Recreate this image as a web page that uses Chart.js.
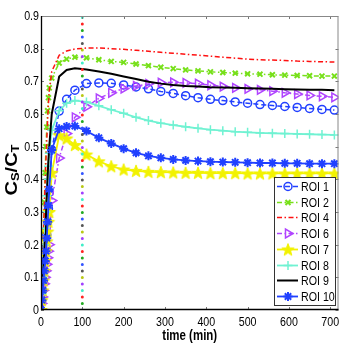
<!DOCTYPE html>
<html><head><meta charset="utf-8">
<script src="https://cdn.jsdelivr.net/npm/chart.js@4.4.0/dist/chart.umd.min.js"></script>
<style>html,body{margin:0;padding:0;background:#fff;overflow:hidden}#wrap{width:346px;height:346px}</style>
</head><body><div id="wrap"><canvas id="c" width="346" height="346"></canvas></div>
<script>
// ---------- data ----------
const timeMin = [0,2,4,6,8,10,12,14,16,18,20,26,44,62,82,110,140,170,200,230,260,290,320,350,380,410,440,470,500,530,560,590,620,650,680,710];
const roi1  = [0,0.03,0.06,0.09,0.12,0.15,0.19,0.23,0.27,0.31,0.36, 0.49,0.609,0.645,0.673,0.693,0.695,0.694, 0.689,0.683,0.677,0.669,0.663,0.656,0.650,0.645,0.641,0.637,0.633,0.629,0.626,0.623,0.620,0.617,0.614,0.612];
const roi2  = [0,0.07,0.15,0.24,0.33,0.42,0.50,0.56,0.61,0.65,0.68, 0.71,0.756,0.768,0.774,0.772,0.766,0.761, 0.758,0.753,0.748,0.743,0.739,0.735,0.732,0.729,0.727,0.725,0.723,0.722,0.720,0.719,0.718,0.717,0.716,0.716];
const roi4  = [0,0.07,0.15,0.23,0.31,0.39,0.46,0.52,0.58,0.63,0.67, 0.73,0.78,0.793,0.799,0.802,0.802,0.800, 0.798,0.795,0.792,0.789,0.786,0.783,0.780,0.777,0.774,0.771,0.768,0.766,0.765,0.764,0.762,0.761,0.760,0.759];
const roi6  = [0,0.02,0.04,0.06,0.08,0.10,0.12,0.14,0.16,0.18,0.20, 0.335,0.465,0.54,0.59,0.622,0.648,0.665, 0.678,0.686,0.692,0.696,0.697,0.695,0.693,0.688,0.684,0.680,0.677,0.674,0.670,0.665,0.661,0.657,0.654,0.651];
const roi7  = [0,0.03,0.06,0.09,0.12,0.15,0.18,0.21,0.24,0.27,0.30, 0.42,0.535,0.525,0.505,0.476,0.455,0.440, 0.430,0.426,0.423,0.422,0.421,0.420,0.420,0.419,0.419,0.419,0.418,0.418,0.418,0.418,0.418,0.418,0.418,0.418];
const roi8  = [0,0.05,0.10,0.15,0.20,0.25,0.30,0.35,0.40,0.44,0.48, 0.55,0.61,0.633,0.641,0.637,0.625,0.613, 0.602,0.590,0.580,0.572,0.566,0.561,0.556,0.552,0.549,0.546,0.544,0.542,0.541,0.540,0.539,0.538,0.537,0.536];
const roi9  = [0,0.04,0.08,0.13,0.18,0.23,0.29,0.35,0.41,0.46,0.50, 0.60,0.715,0.735,0.740,0.736,0.730,0.723, 0.715,0.707,0.699,0.693,0.689,0.686,0.684,0.682,0.681,0.680,0.679,0.678,0.677,0.676,0.675,0.674,0.674,0.673];
const roi10 = [0,0.03,0.06,0.09,0.12,0.15,0.18,0.22,0.27,0.32,0.37, 0.49,0.555,0.562,0.563,0.548,0.527,0.510, 0.494,0.481,0.472,0.466,0.461,0.458,0.456,0.454,0.453,0.452,0.451,0.450,0.450,0.449,0.449,0.448,0.448,0.448];
const seriesLabels = ['ROI 1','ROI 2','ROI 4','ROI 6','ROI 7','ROI 8','ROI 9','ROI 10'];
const xTickValues = [0,100,200,300,400,500,600,700];
const yTickValues = [0,0.1,0.2,0.3,0.4,0.5,0.6,0.7,0.8,0.9];
const xAxisTitle = 'time (min)';
const markerTime = 100;            // vertical dotted marker at t = 100 min
const markerSpan = [0, 0.9];

// ---------- styling ----------
const FONT = "'Liberation Sans',Arial,sans-serif";
const SQUEEZE = 0.82;   // reference text is horizontally condensed

function makeStar(color, r){
  const s = Math.ceil(r*2+3);
  const c = document.createElement('canvas'); c.width = s; c.height = s;
  const g = c.getContext('2d'); g.translate(s/2, s/2+0.6);
  g.beginPath();
  for (let k=0;k<10;k++){ const rr = (k%2)? r*0.42 : r; const a = -Math.PI/2 + k*Math.PI/5; g.lineTo(rr*Math.cos(a), rr*Math.sin(a)); }
  g.closePath(); g.fillStyle = color; g.fill(); g.strokeStyle = color; g.lineWidth = 1; g.stroke();
  return c;
}
const yellowStar = makeStar('#f2f200', 6.5);

const seriesValues = [roi1, roi2, roi4, roi6, roi7, roi8, roi9, roi10];
const seriesStyle = [
  {color:'#2240ff', dash:[5,3],       point:'circle',   r:4,   pbw:1.5, bw:1.5},
  {color:'#77e01a', dash:[5,2.5,1.5,2.5], point:'crossRot', r:3.5, pbw:2, bw:1.5},
  {color:'#ff1010', dash:[5,2.5,1.5,2.5], point:false,  r:0,   pbw:0,   bw:1.5},
  {color:'#b044ff', dash:[5,2.5,1.5,2.5], point:'triangle', r:5, pbw:1.5, bw:1.5, rot:90},
  {color:'#f2f200', dash:[],          point:yellowStar, r:6.5, pbw:1,   bw:1.8},
  {color:'#70f2d2', dash:[],          point:'cross',    r:4.5, pbw:1.5, bw:1.8},
  {color:'#000000', dash:[],          point:false,      r:0,   pbw:0,   bw:2},
  {color:'#2040ff', dash:[],          point:'star',     r:4.5, pbw:2,   bw:1.8}
];
const markerColors = ['#3355ff','#22aa22','#ff2222','#40eec8','#a040ff','#b8c814','#555555'];

function pts(vals){ return timeMin.map((t,i)=>({x:t, y:vals[i]})); }

const datasets = [];
const dotGap = 6.5, period = dotGap*markerColors.length;
markerColors.forEach((c,k)=>{
  datasets.push({
    label:'_marker'+k,
    data:[{x:markerTime,y:markerSpan[0]},{x:markerTime,y:markerSpan[1]}],
    borderColor:c, borderWidth:3, borderCapStyle:'round',
    borderDash:[0,period], borderDashOffset:(period - k*dotGap) % period,
    pointRadius:0, order:0, fill:false
  });
});
seriesLabels.forEach((lab,i)=>{
  const s = seriesStyle[i];
  datasets.push({
    label:lab, data:pts(seriesValues[i]),
    borderColor:s.color, backgroundColor:s.color, borderWidth:s.bw, borderDash:s.dash,
    pointStyle:s.point || 'circle', pointRadius:s.point? s.r:0, pointBorderWidth:s.pbw,
    pointBorderColor:s.color, pointBackgroundColor:'rgba(0,0,0,0)', pointRotation:s.rot||0,
    tension:0, fill:false, order:10-i
  });
});

function squeezedText(ctx, text, x, y, font, align, baseline){
  ctx.save();
  ctx.translate(x, y); ctx.scale(SQUEEZE, 1);
  ctx.font = font; ctx.textAlign = align; ctx.textBaseline = baseline; ctx.fillStyle = '#000';
  ctx.fillText(text, 0, 0);
  ctx.restore();
}

// ---------- plugin: frame, inner ticks, tick labels, titles, legend ----------
const decorations = {
  id:'decorations',
  afterDraw(chart){
    const ctx = chart.ctx, a = chart.chartArea, xs = chart.scales.x, ys = chart.scales.y;
    ctx.save();
    // inner ticks
    ctx.strokeStyle = '#777'; ctx.lineWidth = 1;
    xTickValues.forEach(v=>{ const px = Math.round(xs.getPixelForValue(v))+0.5;
      ctx.beginPath(); ctx.moveTo(px,a.bottom); ctx.lineTo(px,a.bottom-3); ctx.moveTo(px,a.top); ctx.lineTo(px,a.top+3); ctx.stroke(); });
    yTickValues.forEach(v=>{ const py = Math.round(ys.getPixelForValue(v))+0.5;
      ctx.beginPath(); ctx.moveTo(a.left,py); ctx.lineTo(a.left+3,py); ctx.moveTo(a.right,py); ctx.lineTo(a.right-3,py); ctx.stroke(); });
    // frame
    ctx.strokeStyle = '#888'; ctx.lineWidth = 1;
    ctx.beginPath(); ctx.moveTo(a.left, a.top+0.5); ctx.lineTo(a.right-0.5, a.top+0.5); ctx.lineTo(a.right-0.5, a.bottom); ctx.stroke();
    ctx.strokeStyle = '#000'; ctx.lineWidth = 1.3;
    ctx.beginPath(); ctx.moveTo(a.left+0.5, a.top); ctx.lineTo(a.left+0.5, a.bottom-0.5); ctx.lineTo(a.right, a.bottom-0.5); ctx.stroke();

    // tick labels from the library's scales
    const tickFont = '13px ' + FONT;
    xs.ticks.forEach(t=>{ squeezedText(ctx, String(t.label), xs.getPixelForValue(t.value), a.bottom + 12.5, tickFont, 'center', 'middle'); });
    ys.ticks.forEach(t=>{ squeezedText(ctx, String(t.label), a.left - 2, ys.getPixelForValue(t.value) + 0.5, tickFont, 'right', 'middle'); });
    // x title
    squeezedText(ctx, xAxisTitle, (a.left + a.right)/2, 336, 'bold 14px ' + FONT, 'center', 'middle');

    // legend
    const lx = 274.5, ly = 177.5, lw = 61, lh = 128, row = 15.7;
    ctx.fillStyle = '#fff'; ctx.fillRect(lx, ly, lw, lh);
    ctx.strokeStyle = '#333'; ctx.lineWidth = 1; ctx.strokeRect(lx, ly, lw, lh);
    const items = chart.data.datasets.filter(d=>!d.label.startsWith('_'));
    items.forEach((d,i)=>{
      const y = Math.round(186 + i*row) + 0.5;
      ctx.save();
      ctx.strokeStyle = d.borderColor; ctx.lineWidth = d.borderWidth; ctx.setLineDash(d.borderDash||[]);
      ctx.beginPath(); ctx.moveTo(277, y); ctx.lineTo(298, y); ctx.stroke();
      ctx.setLineDash([]);
      if (d.pointRadius > 0) {
        ctx.strokeStyle = d.pointBorderColor; ctx.fillStyle = d.pointBackgroundColor; ctx.lineWidth = d.pointBorderWidth;
        Chart.helpers.drawPoint(ctx, {pointStyle:d.pointStyle, rotation:d.pointRotation||0, radius:d.pointRadius, borderWidth:d.pointBorderWidth}, 288, y);
      }
      ctx.restore();
      squeezedText(ctx, d.label, 301, y + 0.5, '13px ' + FONT, 'left', 'middle');
    });

    // y-axis title: C_S / C_T
    ctx.save();
    ctx.translate(17, 170); ctx.scale(SQUEEZE, 1); ctx.rotate(-Math.PI/2);
    ctx.fillStyle = '#000'; ctx.textBaseline = 'alphabetic'; ctx.textAlign = 'left';
    const big = 'bold 20px ' + FONT, small = 'bold 13px ' + FONT;
    const parts = [['C',big,0],['S',small,3],['/C',big,0],['T',small,3]];
    let total = 0; parts.forEach(p=>{ ctx.font = p[1]; total += ctx.measureText(p[0]).width; });
    let x = -total/2;
    parts.forEach(p=>{ ctx.font = p[1]; ctx.fillText(p[0], x, p[2]); x += ctx.measureText(p[0]).width; });
    ctx.restore();
    ctx.restore();
  }
};

new Chart(document.getElementById('c'), {
  type:'line',
  data:{ datasets },
  options:{
    responsive:false, animation:false, devicePixelRatio:1, events:[],
    layout:{ padding:{ top:16, right:6, left:0, bottom:0 } },
    plugins:{ legend:{display:false}, tooltip:{enabled:false}, title:{display:false} },
    scales:{
      x:{ type:'linear', min:0, max:720,
          grid:{display:false, drawTicks:false}, border:{display:false},
          ticks:{ display:false, stepSize:100, includeBounds:false, maxRotation:0 },
          title:{ display:false, text:xAxisTitle },
          afterFit(s){ s.height = 36; } },
      y:{ type:'linear', min:0, max:0.9,
          grid:{display:false, drawTicks:false}, border:{display:false},
          ticks:{ display:false, stepSize:0.1, callback:(v)=> String(+v.toFixed(1)) },
          afterFit(s){ s.width = 41; } }
    }
  },
  plugins:[decorations]
});
</script>
</body></html>
